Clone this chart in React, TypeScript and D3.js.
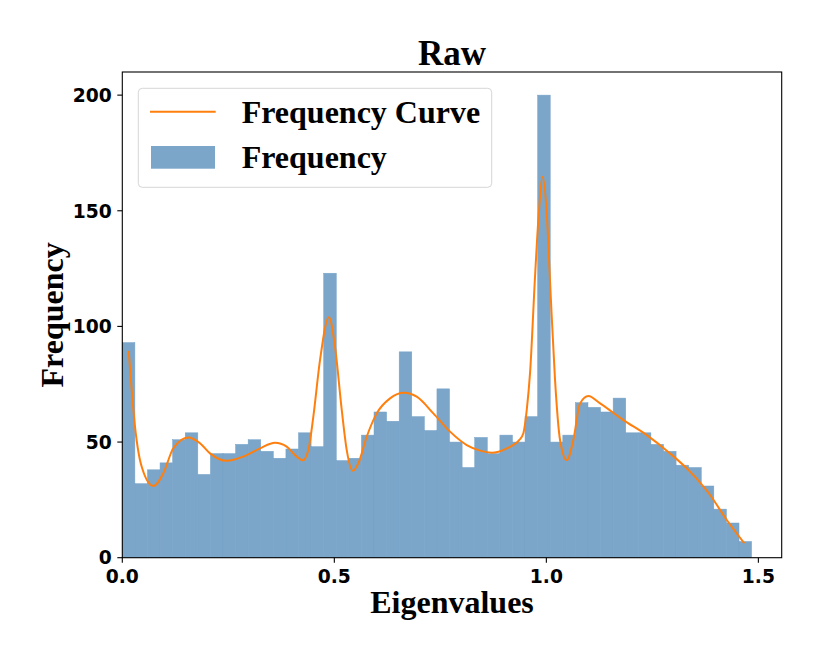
import React from "react";
import * as d3 from "d3";

const counts = [93,32,38,41,51,54,36,45,45,49,51,46,43,47,54,48,123,42,43,53,63,59,89,61,55,73,50,39,52,45,53,50,61,200,50,53,67,65,63,69,54,54,49,46,40,39,31,21,15,7];
const binStart = 0;
const binEnd = 1.484;

const curveX = [0.0151,0.03,0.0458,0.0731,0.0967,0.1203,0.1557,0.1833,0.2068,0.2462,0.2854,0.3248,0.3601,0.3877,0.4113,0.4255,0.4387,0.4505,0.4663,0.487,0.5017,0.5175,0.5292,0.5434,0.5566,0.5764,0.6,0.6314,0.6644,0.6943,0.7335,0.7729,0.8123,0.8436,0.8712,0.9066,0.9363,0.9458,0.9538,0.9616,0.9733,0.9811,0.9915,1.0009,1.0104,1.0205,1.0323,1.0481,1.0637,1.0795,1.0991,1.1267,1.1816,1.2368,1.2917,1.3389,1.3861,1.4255,1.467];
const curveY = [89.4,56.6,39.3,31,36.5,47.3,52,49.5,45.1,41.9,43.7,47.3,49.7,48,43.7,42.1,46.6,61,85.5,104,91.2,63.9,46.6,37.6,40.8,52.3,62.4,68.9,71.3,69.6,62.4,54.5,48.7,46.3,45.4,47.3,50.9,53.8,63.9,80,121.5,146,164.7,148.9,112.8,76.8,50.9,42.2,50.9,66.7,69.9,66.7,59.5,53,45.1,37.2,27.1,16.3,6.2];

const xTicks = [0, 0.5, 1.0, 1.5];
const xTickLabels = ["0.0", "0.5", "1.0", "1.5"];
const yTicks = [0, 50, 100, 150, 200];

const title = "Raw";
const xLabel = "Eigenvalues";
const yLabel = "Frequency";
const legendCurve = "Frequency Curve";
const legendBars = "Frequency";

export default function App() {
  const left = 122.3, right = 781.7, top = 72, bottom = 557.7;
  const x = d3.scaleLinear().domain([0, 1.555]).range([left, right]);
  const y = d3.scaleLinear().domain([0, 210]).range([bottom, top]);
  const bw = (binEnd - binStart) / counts.length;
  const pts: [number, number][] = curveX.map((v, i) => [v, curveY[i]]);
  const line = d3.line<[number, number]>().x(d => x(d[0])).y(d => y(d[1])).curve(d3.curveMonotoneX);
  const serif = "'Liberation Serif', 'Times New Roman', serif";
  const sans = "'DejaVu Sans', sans-serif";
  return (
    <div style={{ position: "absolute", left: 0, top: 0 }}>
      <svg width={822} height={658} style={{ display: "block", background: "#fff" }}>
        <g>
          {counts.map((c, i) => {
            const x0 = x(binStart + i * bw);
            const x1 = x(binStart + (i + 1) * bw);
            return (
              <rect key={i} x={x0} y={y(c)} width={x1 - x0} height={y(0) - y(c)}
                fill="#7ba6ca" stroke="#75a1c7" strokeWidth={0.5} />
            );
          })}
        </g>
        <path d={line(pts) || ""} fill="none" stroke="#ff7f0e" strokeWidth={2} />
        <rect x={left} y={top} width={right - left} height={bottom - top} fill="none" stroke="#000" strokeWidth={1.1} />
        {yTicks.map(t => (
          <g key={t}>
            <line x1={left - 5} x2={left} y1={y(t)} y2={y(t)} stroke="#000" strokeWidth={1.1} />
            <text x={111.7} y={y(t)} dy="0.36em" textAnchor="end" fontFamily={sans} fontWeight="bold" fontSize={18.7} fill="#000">{t}</text>
          </g>
        ))}
        {xTicks.map((t, i) => (
          <g key={t}>
            <line x1={x(t)} x2={x(t)} y1={bottom} y2={bottom + 5} stroke="#000" strokeWidth={1.1} />
            <text x={x(t)} y={583} textAnchor="middle" fontFamily={sans} fontWeight="bold" fontSize={18.7} fill="#000">{xTickLabels[i]}</text>
          </g>
        ))}
        <text x={(left + right) / 2} y={65} textAnchor="middle" fontFamily={serif} fontWeight="bold" fontSize={35} fill="#000">{title}</text>
        <text x={(left + right) / 2} y={613} textAnchor="middle" fontFamily={serif} fontWeight="bold" fontSize={32} fill="#000">{xLabel}</text>
        <text transform={`translate(63,${(top + bottom) / 2}) rotate(-90)`} textAnchor="middle" fontFamily={serif} fontWeight="bold" fontSize={32} fill="#000">{yLabel}</text>
        <g>
          <rect x={138.3} y={88.3} width={353.4} height={99} rx={4} fill="#fff" fillOpacity={0.8} stroke="#d6d6d6" strokeWidth={1} />
          <line x1={150} x2={215.7} y1={111.7} y2={111.7} stroke="#ff7f0e" strokeWidth={2} />
          <rect x={151} y={146} width={64} height={22.7} fill="#7ba6ca" />
          <text x={241.7} y={123.3} fontFamily={serif} fontWeight="bold" fontSize={32} fill="#000">{legendCurve}</text>
          <text x={241.7} y={168.3} fontFamily={serif} fontWeight="bold" fontSize={32} fill="#000">{legendBars}</text>
        </g>
      </svg>
    </div>
  );
}
